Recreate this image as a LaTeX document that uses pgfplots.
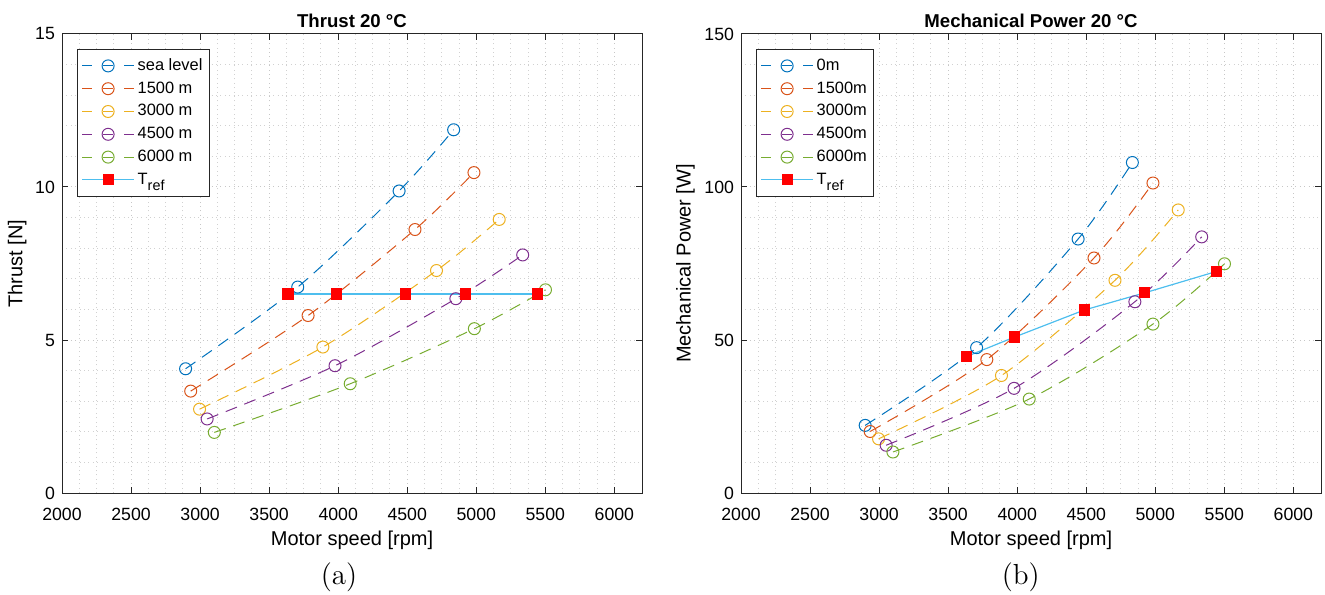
\documentclass[border=0pt]{standalone}
\usepackage{fontspec}
\setsansfont{Liberation Sans}
\usepackage{pgfplots}
\pgfplotsset{compat=1.18}

% MATLAB default line colours
\definecolor{mblue}{rgb}{0,0.447,0.741}
\definecolor{morange}{rgb}{0.850,0.325,0.098}
\definecolor{myellow}{rgb}{0.929,0.694,0.125}
\definecolor{mpurple}{rgb}{0.494,0.184,0.556}
\definecolor{mgreen}{rgb}{0.466,0.674,0.188}
\definecolor{mcyan}{rgb}{0.301,0.745,0.933}

\newcommand{\Tref}{T\raisebox{-0.4em}{\fontsize{7.2}{8}\selectfont ref}}

\pgfplotsset{
  mstyle/.style={
    scale only axis, width=290pt, height=229.5pt,
    xmin=2000, xmax=6200, xtick={2000,2500,...,6000},
    minor x tick num=3, minor y tick num=4,
    tick align=inside, major tick length=3pt, minor tick length=0pt,
    grid=both,
    major grid style={black!22, line width=0.5pt, dash pattern=on 0.5pt off 1.7pt},
    minor grid style={black!18, line width=0.5pt, dash pattern=on 0.5pt off 1.7pt},
    axis line style={black!85, line width=0.5pt},
    tick style={black!85, line width=0.5pt},
    tick label style={font=\fontsize{8.85}{10}\selectfont\sffamily},
    /pgf/number format/assume math mode=true,
    /pgf/number format/1000 sep={},
    scaled ticks=false,
    xticklabel style={yshift=-4pt},
    label style={font=\fontsize{10}{12}\selectfont\sffamily},
    xlabel style={at={(axis description cs:0.5,0)}, anchor=base, inner sep=0pt, yshift=-26pt},
    title style={font=\fontsize{9.3}{11}\selectfont\sffamily\bfseries,
      at={(axis description cs:0.5,1)}, anchor=south, inner sep=0pt, yshift=-2.9pt},
    legend cell align=left,
    legend style={at={(axis description cs:0,1)}, anchor=north west,
      xshift=7.5pt, yshift=-7.5pt, draw=black!85, line width=0.5pt, fill=white,
      font=\fontsize{8.2}{9.5}\selectfont\sffamily, inner xsep=2pt, inner ysep=2.5pt,
      row sep=0pt, nodes={inner sep=1.5pt, text height=6.4pt, text depth=2pt}},
    legend image code/.code={
      \draw[mark repeat=2, mark phase=2, #1] plot coordinates {(0pt,0pt) (13pt,0pt) (26pt,0pt)};
    },
  },
  cline/.style={color=#1, line width=0.5pt, dash pattern=on 6pt off 4pt, smooth,
    mark=o, mark size=3pt, mark options={solid},
    legend image post style={dash pattern=on 5pt off 5.5pt, dash phase=0pt}},
  refline/.style={color=mcyan, line width=0.6pt, mark=square*, mark size=2.5pt,
    mark options={red, fill=red}},
}

\begin{document}
\begin{tikzpicture}
\useasboundingbox (0,0) rectangle (662.5pt,297pt);

% (a) Thrust
\begin{axis}[mstyle, at={(31pt,50.5pt)}, anchor=south west,
  ymin=0, ymax=15, ytick={0,5,10,15},
  title={Thrust 20 °C}, xlabel={Motor speed [rpm]}, ylabel={Thrust [N]},
  ylabel style={at={(axis description cs:-0.0603,0.5)}, anchor=south, inner sep=0pt},
]
\addplot[cline=mblue] coordinates {(2895,4.06) (3707,6.73) (4441,9.87) (4836,11.87)};
\addlegendentry{sea level}
\addplot[cline=morange] coordinates {(2932,3.33) (3782,5.80) (4556,8.61) (4983,10.47)};
\addlegendentry{1500 m}
\addplot[cline=myellow] coordinates {(2996,2.74) (3889,4.77) (4712,7.27) (5166,8.94)};
\addlegendentry{3000 m}
\addplot[cline=mpurple] coordinates {(3051,2.42) (3977,4.16) (4852,6.35) (5336,7.78)};
\addlegendentry{4500 m}
\addplot[cline=mgreen] coordinates {(3103,1.98) (4087,3.57) (4986,5.37) (5501,6.64)};
\addlegendentry{6000 m}
\addplot[refline] coordinates {(3636,6.5) (3987,6.5) (4489,6.5) (4924,6.5) (5443,6.5)};
\addlegendentry{\Tref}
\end{axis}

% (b) Mechanical power
\begin{axis}[mstyle, at={(370.5pt,50.5pt)}, anchor=south west,
  ymin=0, ymax=150, ytick={0,50,100,150},
  title={Mechanical Power 20 °C}, xlabel={Motor speed [rpm]}, ylabel={Mechanical Power [W]},
  ylabel style={at={(axis description cs:-0.079,0.5)}, anchor=south, inner sep=0pt},
]
\addplot[cline=mblue] coordinates {(2899,22.1) (3706,47.5) (4441,83.0) (4834,108.0)};
\addlegendentry{0m}
\addplot[cline=morange] coordinates {(2935,20.1) (3780,43.6) (4556,76.8) (4983,101.3)};
\addlegendentry{1500m}
\addplot[cline=myellow] coordinates {(2996,17.7) (3886,38.4) (4708,69.5) (5166,92.5)};
\addlegendentry{3000m}
\addplot[cline=mpurple] coordinates {(3051,15.6) (3977,34.2) (4852,62.5) (5336,83.7)};
\addlegendentry{4500m}
\addplot[cline=mgreen] coordinates {(3100,13.4) (4087,30.7) (4983,55.2) (5501,74.9)};
\addlegendentry{6000m}
\addplot[refline] coordinates {(3633,44.6) (3983,51.0) (4486,59.8) (4922,65.4) (5443,72.4)};
\addlegendentry{\Tref}
\end{axis}

\node[font=\fontsize{14.5}{17}\selectfont\rmfamily, anchor=base] at (169.5pt,4.8pt) {(a)};
\node[font=\fontsize{14.5}{17}\selectfont\rmfamily, anchor=base] at (510.4pt,4.8pt) {(b)};
\end{tikzpicture}
\end{document}
